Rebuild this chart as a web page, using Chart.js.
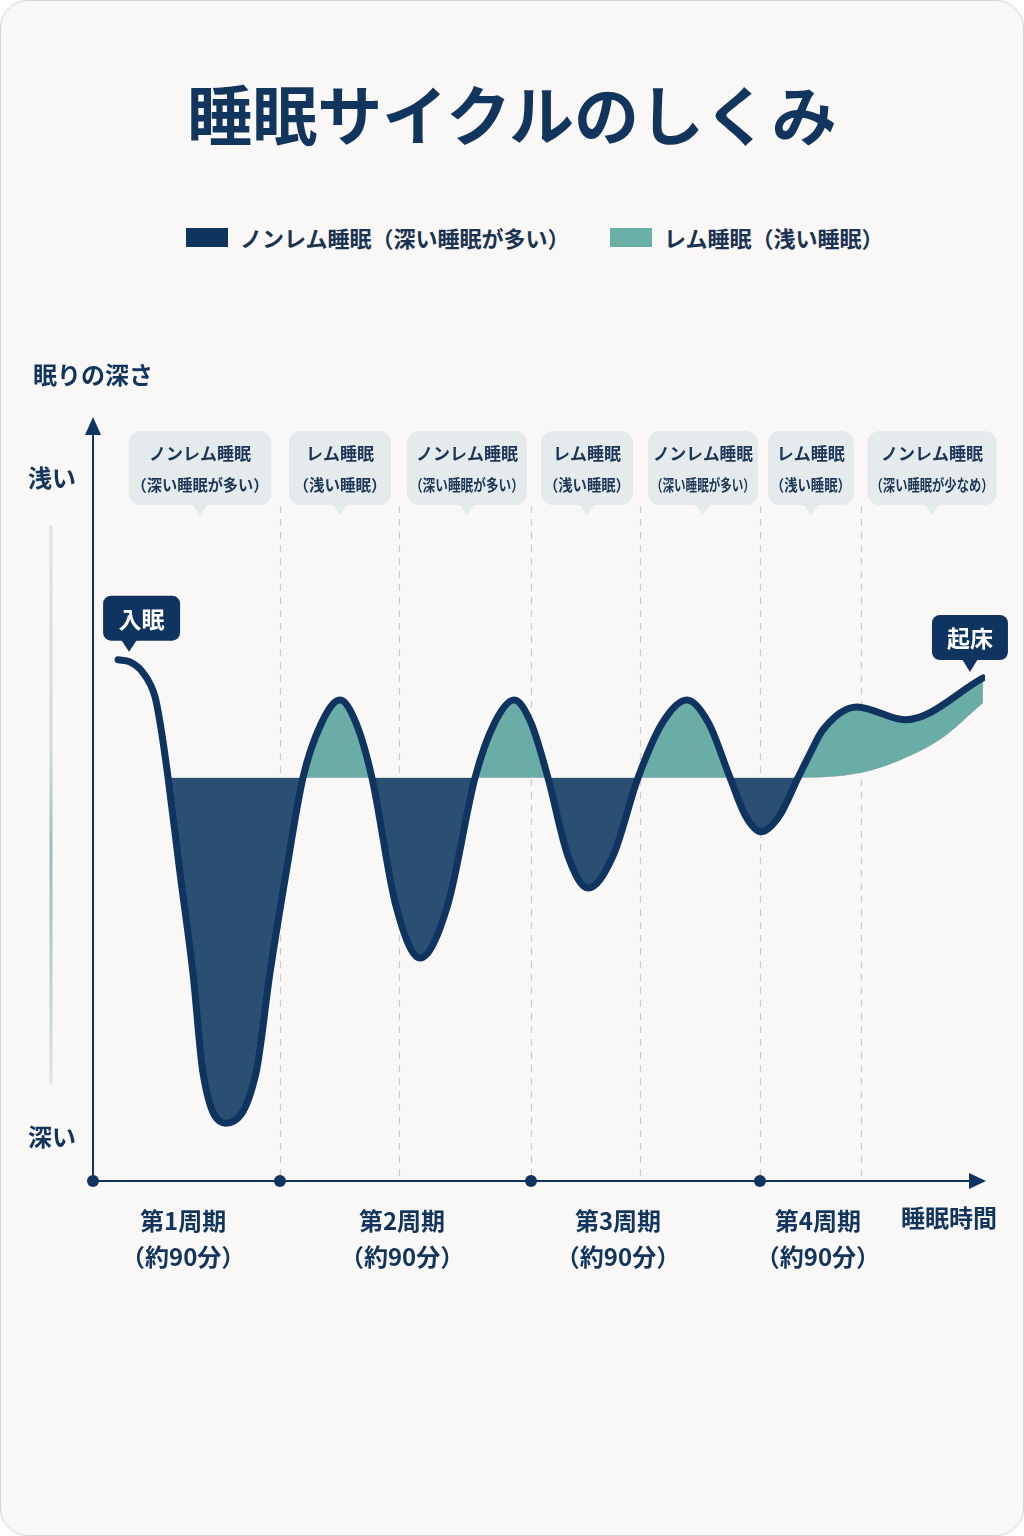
<!DOCTYPE html>
<html lang="ja">
<head>
<meta charset="utf-8">
<title>睡眠サイクルのしくみ</title>
<script src="https://cdn.jsdelivr.net/npm/chart.js@4.4.0/dist/chart.umd.min.js"></script>
<style>
  html, body { margin: 0; padding: 0; background: #ffffff; }
  body { width: 1024px; height: 1536px; position: relative; overflow: hidden;
         font-family: 'Noto Sans CJK JP', 'Noto Sans', sans-serif; }
  .card { position: absolute; left: 0; top: 0; width: 1022px; height: 1534px;
          border: 1px solid #d4d4d4; border-radius: 28px; background: #faf8f6; }
  h1 { position: absolute; left: 0; right: 0; top: 77px; margin: 0; text-align: center;
       font-size: 65px; line-height: 70px; font-weight: 700; color: #12355d; letter-spacing: 0; }
  .item { position: absolute; top: 224px; height: 26px; display: flex; align-items: center;
          font-size: 22px; font-weight: 700; color: #1b3352; }
  .item i { display: inline-block; width: 42px; height: 19px; margin-right: 12px; }
  canvas { position: absolute; left: 0; top: 0; }
</style>
</head>
<body>
<div class="card"></div>
<h1>睡眠サイクルのしくみ</h1>
<div class="item" style="left:186px"><i style="background:#0f355e"></i>ノンレム睡眠（深い睡眠が多い）</div>
<div class="item" style="left:610px"><i style="background:#6aaea8"></i>レム睡眠（浅い睡眠）</div>
<canvas id="sleep" width="1024" height="1536"></canvas>
<script>
// 眠りの深さのカーブ (x: 入眠からの分, y: 0=深い .. 100=浅い)
var curveMin   = [13.5, 19.9, 26.9, 33.4, 36.1, 40.4, 46.8, 53.8, 59.2, 71.6,
                  87.7, 95.2, 103.9, 113.0, 123.0, 132.9, 141.5, 150.1, 163.0, 176.0,
                  190.8, 205.6, 216.1, 226.6, 235.7, 244.8, 255.6, 266.4, 279.8, 293.3,
                  306.4, 319.6, 331.2, 342.8, 351.1, 359.5, 369.4, 379.4, 385.5, 392.8,
                  411.1, 437.0, 478.9];
var curveDepth = [68.5, 68.2, 66.8, 63.6, 60.2, 53.0, 40.5, 27.3, 14.2, 7.6,
                  14.2, 27.3, 40.5, 53.0, 60.2, 63.2, 60.2, 53.0, 36.2, 29.3,
                  36.2, 53.0, 60.2, 63.2, 60.2, 53.0, 42.7, 38.5, 42.7, 53.0,
                  60.2, 63.2, 60.2, 53.0, 48.0, 45.9, 48.0, 53.0, 56.0, 59.3,
                  62.3, 60.6, 66.1];

// 塗り分けの下端 (境界線、最後だけ持ち上がる)
var edgeMin   = [40.4, 379.4, 412.7, 434.3, 455.8, 478.9];
var edgeDepth = [53.0, 53.0, 53.6, 55.3, 58.0, 62.8];

// 段階の区切りと吹き出し
var stageBounds  = [100.6, 164.7, 235.7, 294.4, 358.9, 413.3];
var stageCenters = [57.6, 132.9, 201.2, 265.8, 328.2, 386.3, 451.5];
var stageNames   = ['ノンレム睡眠', 'レム睡眠', 'ノンレム睡眠', 'レム睡眠', 'ノンレム睡眠', 'レム睡眠', 'ノンレム睡眠'];
var stageNotes   = ['（深い睡眠が多い）', '（浅い睡眠）', '（深い睡眠が多い）', '（浅い睡眠）',
                    '（深い睡眠が多い）', '（浅い睡眠）', '（深い睡眠が少なめ）'];

// 周期ラベル
var cycleStarts = [0, 100.6, 235.7, 358.9];
var cycleNames  = ['第1周期', '第2周期', '第3周期', '第4周期'];
var cycleNote   = '（約90分）';
var cycleLabelAt = [48.5, 166.3, 282.5, 390.1];

var NAVY = '#0f3460';
var FONT = "'Noto Sans CJK JP', 'Noto Sans', sans-serif";
// bubble widths (layout only)
var bubbleW = [143, 102, 120, 92, 110, 86, 129];

function bubble(ctx, cx, top, w, h, color) {
    ctx.fillStyle = color;
    ctx.beginPath();
    ctx.roundRect(cx - w / 2, top, w, h, 12);
    ctx.fill();
    ctx.beginPath();
    ctx.moveTo(cx - 8, top + h - 1);
    ctx.lineTo(cx, top + h + 10);
    ctx.lineTo(cx + 8, top + h - 1);
    ctx.closePath();
    ctx.fill();
}

function tag(ctx, left, top, w, h, tipX, tipY, baseX, text) {
    ctx.fillStyle = NAVY;
    ctx.beginPath();
    ctx.roundRect(left, top, w, h, 8);
    ctx.fill();
    ctx.beginPath();
    ctx.moveTo(baseX - 8, top + h - 1);
    ctx.lineTo(tipX, tipY);
    ctx.lineTo(baseX + 8, top + h - 1);
    ctx.closePath();
    ctx.fill();
    ctx.fillStyle = '#ffffff';
    ctx.font = 'bold 23px ' + FONT;
    ctx.textAlign = 'center';
    ctx.textBaseline = 'middle';
    ctx.fillText(text, left + w / 2, top + h / 2 + 1);
}

var decor = {
    id: 'decor',
    beforeDatasetsDraw: function (chart) {
        var ctx = chart.ctx, a = chart.chartArea, x = chart.scales.x;
        ctx.save();
        // 区切りの点線
        ctx.strokeStyle = '#cfcbc9';
        ctx.lineWidth = 1.2;
        ctx.setLineDash([7, 6]);
        stageBounds.forEach(function (v) {
            var px = Math.round(x.getPixelForValue(v)) + 0.5;
            ctx.beginPath();
            ctx.moveTo(px, a.top + 86);
            ctx.lineTo(px, a.bottom - 4);
            ctx.stroke();
        });
        ctx.restore();
    },
    afterDatasetsDraw: function (chart) {
        var ctx = chart.ctx, a = chart.chartArea, x = chart.scales.x, y = chart.scales.y;
        ctx.save();

        // 軸と矢印
        ctx.strokeStyle = NAVY;
        ctx.fillStyle = NAVY;
        ctx.lineWidth = 2;
        ctx.beginPath();
        ctx.moveTo(a.left, a.bottom);
        ctx.lineTo(a.left, a.top + 12);
        ctx.stroke();
        ctx.beginPath();
        ctx.moveTo(a.left, a.top - 3);
        ctx.lineTo(a.left - 8, a.top + 15);
        ctx.lineTo(a.left + 8, a.top + 15);
        ctx.closePath();
        ctx.fill();
        ctx.beginPath();
        ctx.moveTo(a.left, a.bottom);
        ctx.lineTo(a.right - 10, a.bottom);
        ctx.stroke();
        ctx.beginPath();
        ctx.moveTo(a.right + 1, a.bottom);
        ctx.lineTo(a.right - 16, a.bottom - 8);
        ctx.lineTo(a.right - 16, a.bottom + 8);
        ctx.closePath();
        ctx.fill();
        cycleStarts.forEach(function (v) {
            ctx.beginPath();
            ctx.arc(x.getPixelForValue(v), a.bottom, 6, 0, Math.PI * 2);
            ctx.fill();
        });

        // 縦軸の説明
        ctx.fillStyle = '#12355d';
        ctx.font = 'bold 24px ' + FONT;
        ctx.textBaseline = 'middle';
        ctx.textAlign = 'left';
        ctx.fillText('眠りの深さ', 33, a.top - 45);
        ctx.textAlign = 'center';
        ctx.fillText('浅い', 52, a.top + 58);
        ctx.fillText('深い', 52, a.bottom - 44);
        var g = ctx.createLinearGradient(0, a.top + 105, 0, a.bottom - 96);
        g.addColorStop(0, '#e2e2e2');
        g.addColorStop(0.4, '#d2dada');
        g.addColorStop(0.58, '#98bcbe');
        g.addColorStop(0.75, '#b4cacb');
        g.addColorStop(1, '#e2e2e2');
        ctx.strokeStyle = g;
        ctx.lineWidth = 3;
        ctx.lineCap = 'round';
        ctx.beginPath();
        ctx.moveTo(51, a.top + 107);
        ctx.lineTo(51, a.bottom - 98);
        ctx.stroke();

        // 横軸のラベル
        ctx.fillStyle = '#12355d';
        ctx.font = 'bold 24px ' + FONT;
        cycleNames.forEach(function (name, i) {
            var px = x.getPixelForValue(cycleLabelAt[i]);
            ctx.fillText(name, px, a.bottom + 40);
            ctx.fillText(cycleNote, px, a.bottom + 76);
        });
        ctx.fillText('睡眠時間', 949, a.bottom + 37);

        // 吹き出し
        stageNames.forEach(function (name, i) {
            var cx = x.getPixelForValue(stageCenters[i]);
            var w = bubbleW[i];
            bubble(ctx, cx, a.top + 11, w, 74, 'rgba(224,231,234,0.85)');
            ctx.fillStyle = '#1b3656';
            ctx.font = 'bold 17px ' + FONT;
            ctx.fillText(name, cx, a.top + 34, w - 10);
            ctx.font = 'bold 15.5px ' + FONT;
            ctx.fillText(stageNotes[i], cx, a.top + 65, w - 6);
        });

        // 入眠・起床
        var sx = x.getPixelForValue(curveMin[0]), sy = y.getPixelForValue(curveDepth[0]);
        tag(ctx, sx - 15, sy - 64, 77, 45, sx + 11, sy - 8, sx + 11, '入眠');
        var n = curveMin.length - 1;
        var ex = x.getPixelForValue(curveMin[n]), ey = y.getPixelForValue(curveDepth[n]);
        tag(ctx, ex - 51, ey - 63, 76, 45, ex - 13, ey - 6, ex - 13, '起床');

        ctx.restore();
    }
};

function toPoints(xs, ys) {
    return xs.map(function (v, i) { return { x: v, y: ys[i] }; });
}

var chart = new Chart(document.getElementById('sleep'), {
    type: 'line',
    data: {
        datasets: [{
            label: '眠りの深さ',
            data: toPoints(curveMin, curveDepth),
            borderColor: NAVY,
            borderWidth: 7,
            borderCapStyle: 'round',
            borderJoinStyle: 'round',
            cubicInterpolationMode: 'monotone',
            pointRadius: 0,
            fill: { target: 1, above: '#6aada7', below: '#2b4f73' }
        }, {
            label: 'edge',
            data: toPoints(edgeMin, edgeDepth),
            borderWidth: 0,
            borderColor: 'rgba(0,0,0,0)',
            cubicInterpolationMode: 'monotone',
            pointRadius: 0,
            fill: false
        }]
    },
    options: {
        responsive: false,
        animation: false,
        devicePixelRatio: 1,
        layout: { padding: { left: 93, right: 39, top: 420, bottom: 355 } },
        scales: {
            x: { type: 'linear', min: 0, max: 480, display: false },
            y: { min: 0, max: 100, display: false }
        },
        plugins: {
            legend: { display: false },
            tooltip: { enabled: false }
        }
    },
    plugins: [decor]
});
</script>
</body>
</html>
